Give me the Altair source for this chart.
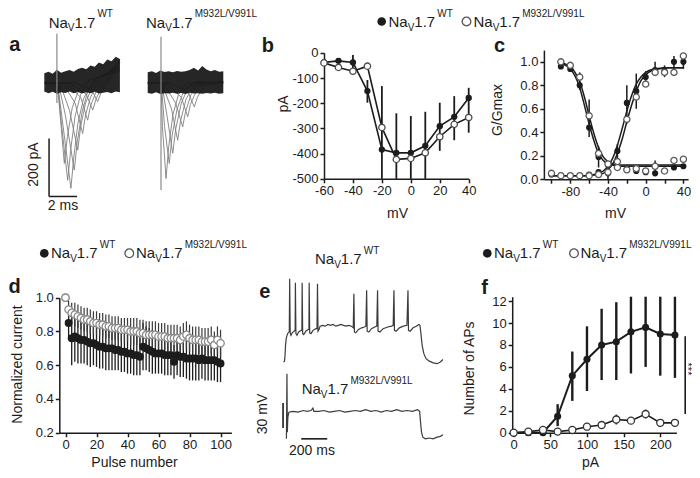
import altair as alt
import pandas as pd

FONT = "Liberation Sans"
INK = "#1c1c1c"
OPEN_EDGE = "#4a4a4a"
TRACE = "#808080"
W_CHART, H_CHART = 684, 462

# ===================== DATA =====================
# ---- a: sodium current traces (time ms, current pA)
a_wt_1 = [(0, 0), (0.9, 0), (1.05, -40), (1.5, -210), (1.9, -364), (2.1, -260), (2.4, -140), (2.8, -55), (3.3, -8), (4.0, 20), (5.4, 45)]
a_wt_2 = [(0, 0), (0.95, 0), (1.2, -130), (1.67, -336), (1.9, -225), (2.2, -115), (2.6, -40), (3.1, 0), (4.0, 25), (5.4, 50)]
a_wt_3 = [(0, 0), (0.95, -10), (1.2, -150), (1.43, -278), (1.65, -185), (2.0, -85), (2.5, -20), (3.2, 10), (5.4, 40)]
a_wt_4 = [(0, 0), (1.0, 0), (1.5, -110), (2.14, -301), (2.35, -205), (2.7, -100), (3.1, -30), (3.6, 10), (5.4, 55)]
a_wt_5 = [(0, 0), (1.1, 0), (1.8, -95), (2.39, -232), (2.6, -150), (2.95, -70), (3.4, -15), (4.0, 20), (5.4, 62)]
a_wt_6 = [(0, 0), (1.3, 0), (2.2, -70), (2.74, -175), (2.95, -110), (3.3, -50), (3.8, 0), (4.4, 30), (5.4, 70)]
a_wt_7 = [(0, 0), (1.5, 0), (2.6, -50), (3.1, -129), (3.3, -80), (3.7, -30), (4.2, 10), (5.4, 75)]
a_wt_8 = [(0, 0), (1.8, 0), (3.0, -40), (3.46, -94), (3.7, -55), (4.1, -15), (4.6, 20), (5.4, 80)]
a_wt_9 = [(0, 0), (2.2, 0), (3.4, -25), (3.81, -65), (4.05, -35), (4.5, 0), (5.4, 70)]
a_mut_1 = [(0, 0), (0.95, 0), (1.05, -150), (1.31, -330), (1.5, -220), (1.8, -110), (2.2, -40), (2.8, 0), (5.4, 0)]
a_mut_2 = [(0, 0), (0.97, 0), (1.2, -150), (1.54, -278), (1.75, -180), (2.1, -90), (2.6, -25), (3.2, 0), (5.4, 0)]
a_mut_3 = [(0, 0), (1.0, 0), (1.4, -120), (1.79, -243), (2.0, -160), (2.4, -70), (2.9, -15), (3.5, 5), (5.4, 0)]
a_mut_4 = [(0, 0), (1.0, 0), (1.7, -90), (2.14, -198), (2.35, -130), (2.75, -55), (3.3, -10), (5.4, 5)]
a_mut_5 = [(0, 0), (1.1, 0), (2.0, -70), (2.5, -152), (2.7, -100), (3.1, -40), (3.6, 0), (5.4, 0)]
a_mut_6 = [(0, 0), (1.3, 0), (2.4, -50), (2.86, -117), (3.05, -75), (3.5, -25), (4.0, 0), (5.4, 5)]
a_mut_7 = [(0, 0), (1.6, 0), (2.9, -35), (3.33, -83), (3.55, -50), (4.0, -10), (5.4, 0)]
a_band_t = [0, 0.3, 0.6, 0.9, 1.2, 1.5, 1.8, 2.1, 2.4, 2.7, 3.0, 3.3, 3.6, 3.9, 4.2, 4.5, 4.8, 5.1, 5.4]
a_wt_band_lo = [-30, -36, -31, -38, -33, -35, -30, -36, -32, -37, -33, -36, -31, -37, -34, -32, -36, -30, -33]
a_wt_band_hi = [33, 38, 31, 45, 35, 40, 44, 38, 48, 52, 47, 60, 55, 70, 64, 80, 74, 90, 82]
a_mut_band_lo = [-35, -38, -33, -39, -36, -37, -34, -38, -35, -39, -34, -37, -36, -38, -35, -37, -34, -38, -36]
a_mut_band_hi = [36, 40, 34, 42, 37, 40, 36, 41, 38, 40, 44, 52, 42, 58, 46, 40, 44, 38, 40]
a_wt_artifact = [(0.9, -70, 169)]
a_mut_artifact = [(0.95, -370, 159)]
a_bar_ms = 2
a_bar_pa = 200

# ---- b: current-voltage relation
b_mv = [-60, -50, -40, -30, -20, -10, 0, 10, 20, 30, 40]
b_wt_pa = [-38, -32, -38, -152, -384, -397, -397, -369, -291, -254, -179]
b_mut_pa = [-40, -58, -73, -53, -296, -423, -419, -397, -333, -284, -257]
b_err_mv = [-40, -30, -20, -10, 0, 10, 20, 30, 40]
b_err_top = [-9, -108, -132, -240, -251, -234, -198, -172, -139]
b_err_bottom = [-62, -198, -500, -500, -500, -500, -389, -347, -317]

# ---- c: activation / steady-state inactivation
c_inact_mv = [-90, -80, -70, -60, -50, -40, -30, -20, -10, 0, 10, 20, 30, 40]
c_inact_wt = [0.96, 0.94, 0.80, 0.44, 0.19, 0.12, 0.10, 0.09, 0.07, 0.06, 0.05, 0.07, 0.10, 0.11]
c_inact_mut = [1.00, 0.97, 0.87, 0.54, 0.22, 0.13, 0.10, 0.08, 0.09, 0.07, 0.11, 0.07, 0.16, 0.17]
c_act_mv = [-100, -90, -80, -70, -60, -50, -40, -30, -20, -10, 0, 10, 20, 30, 40]
c_act_wt = [0.04, 0.03, 0.03, 0.03, 0.04, 0.06, 0.05, 0.24, 0.65, 0.75, 0.87, 0.93, 0.92, 1.00, 1.00]
c_act_mut = [0.05, 0.03, 0.03, 0.03, 0.03, 0.04, 0.06, 0.15, 0.51, 0.70, 0.81, 0.91, 0.91, 0.91, 1.05]
c_err_mv = [-70, -60, -50, -40, -30, -20, -10, 0, 10, 20, 30, 40, 10]
c_err_low = [0.76, 0.36, 0.10, 0.00, 0.14, 0.47, 0.60, 0.80, 0.88, 0.87, 0.90, 0.94, 0.04]
c_err_high = [0.91, 0.68, 0.28, 0.12, 0.30, 0.80, 0.90, 0.92, 1.00, 0.97, 1.05, 1.06, 0.16]
c_fit_inact_mv = [-90, -85, -80, -75, -70, -65, -60, -55, -50, -45, -40, -35, -30, -25, -20, -15, -10, -5, 0, 5, 10, 15, 20, 25, 30, 35, 40]
c_fit_inact_wt = [0.99, 0.97, 0.94, 0.88, 0.78, 0.63, 0.47, 0.33, 0.22, 0.16, 0.13, 0.12, 0.11, 0.11, 0.11, 0.11, 0.11, 0.11, 0.11, 0.11, 0.11, 0.11, 0.11, 0.11, 0.11, 0.11, 0.11]
c_fit_inact_mut = [1.00, 0.98, 0.96, 0.91, 0.83, 0.70, 0.54, 0.39, 0.27, 0.19, 0.15, 0.13, 0.12, 0.12, 0.12, 0.12, 0.12, 0.12, 0.12, 0.12, 0.12, 0.12, 0.12, 0.12, 0.12, 0.12, 0.12]
c_fit_act_mv = [-100, -95, -90, -85, -80, -75, -70, -65, -60, -55, -50, -45, -40, -35, -30, -25, -20, -15, -10, -5, 0, 5, 10, 15, 20, 25, 30, 35, 40]
c_fit_act_wt = [0.03, 0.03, 0.03, 0.03, 0.03, 0.03, 0.03, 0.03, 0.035, 0.04, 0.05, 0.07, 0.11, 0.18, 0.29, 0.43, 0.58, 0.71, 0.81, 0.87, 0.91, 0.93, 0.94, 0.945, 0.95, 0.95, 0.95, 0.95, 0.95]
c_fit_act_mut = [0.03, 0.03, 0.03, 0.03, 0.03, 0.03, 0.03, 0.03, 0.03, 0.035, 0.04, 0.05, 0.08, 0.13, 0.22, 0.34, 0.49, 0.63, 0.75, 0.84, 0.89, 0.92, 0.935, 0.94, 0.945, 0.95, 0.95, 0.95, 0.95]

# ---- d: use-dependent current reduction
d_pulse = [0, 2, 4, 6, 8, 10, 12, 14, 16, 18, 20, 22, 24, 26, 28, 30, 32, 34, 36, 38, 40, 42, 44, 46, 48, 50,
           52, 54, 56, 58, 60, 62, 64, 66, 68, 70, 72, 74, 76, 78, 80, 82, 84, 86, 88, 90, 92, 94, 96, 98, 100]
d_wt = [1.00, 0.85, 0.76, 0.77, 0.76, 0.75, 0.75, 0.74, 0.73, 0.73, 0.72, 0.71, 0.71, 0.70, 0.70, 0.70, 0.69,
        0.69, 0.68, 0.68, 0.67, 0.67, 0.66, 0.66, 0.65, 0.71, 0.70, 0.69, 0.68, 0.67, 0.67, 0.67, 0.66, 0.66,
        0.66, 0.62, 0.66, 0.65, 0.65, 0.64, 0.64, 0.64, 0.64, 0.63, 0.64, 0.63, 0.63, 0.63, 0.63, 0.62, 0.61]
d_wt_err = [0.0, 0.10, 0.16, 0.15, 0.15, 0.14, 0.14, 0.14, 0.14, 0.13, 0.13, 0.13, 0.13, 0.13, 0.13, 0.13, 0.12,
            0.12, 0.12, 0.12, 0.12, 0.12, 0.12, 0.12, 0.11, 0.14, 0.13, 0.13, 0.13, 0.12, 0.12, 0.12, 0.12, 0.12,
            0.12, 0.10, 0.12, 0.12, 0.12, 0.12, 0.13, 0.13, 0.13, 0.12, 0.12, 0.12, 0.12, 0.12, 0.12, 0.12, 0.11]
d_mut = [1.00, 0.93, 0.91, 0.90, 0.89, 0.88, 0.87, 0.87, 0.86, 0.85, 0.85, 0.84, 0.84, 0.83, 0.83, 0.82, 0.82,
         0.82, 0.81, 0.81, 0.81, 0.80, 0.80, 0.80, 0.79, 0.79, 0.78, 0.78, 0.78, 0.78, 0.77, 0.77, 0.77, 0.76,
         0.76, 0.76, 0.76, 0.75, 0.77, 0.78, 0.76, 0.75, 0.75, 0.75, 0.74, 0.74, 0.74, 0.75, 0.72, 0.75, 0.73]
d_mut_err = [0.0, 0.05, 0.06, 0.07, 0.07, 0.07, 0.07, 0.07, 0.07, 0.07, 0.07, 0.07, 0.07, 0.07, 0.07, 0.07, 0.07,
             0.07, 0.07, 0.07, 0.07, 0.08, 0.08, 0.08, 0.08, 0.08, 0.08, 0.08, 0.08, 0.08, 0.08, 0.08, 0.08, 0.08,
             0.08, 0.08, 0.08, 0.08, 0.08, 0.08, 0.08, 0.08, 0.08, 0.08, 0.08, 0.08, 0.08, 0.08, 0.08, 0.08, 0.08]

# ---- e: voltage traces (time ms, membrane potential mV)
e_wt = [(-12, -65), (-4, -64), (0, -58), (4, -45), (10, -36), (20, -31), (30, -29), (33, -28), (36, 35), (40, -30),
        (46, -33), (55, -30), (70, -28), (78, -27), (80, 30), (84, -31), (92, -33), (105, -29), (125, -27),
        (130, -27), (132, 30), (136, -31), (144, -32), (160, -28), (178, -26), (184, -26), (186, 30), (190, -30),
        (200, -31), (215, -27), (238, -25), (246, -25), (250, 29), (254, -28), (262, -26), (270, -22), (290, -21),
        (310, -22), (330, -20), (350, -21), (370, -20), (390, -22), (410, -21), (430, -20), (450, -21), (470, -22),
        (490, -21), (510, -22), (525, -24), (530, 17), (534, -29), (545, -30), (565, -26), (590, -24), (610, -23),
        (622, -22), (628, 21), (632, -28), (645, -29), (665, -25), (690, -23), (706, -22), (712, 21), (716, -28),
        (730, -29), (755, -25), (790, -23), (820, -22), (832, -21), (838, 21), (842, -27), (855, -28), (880, -24),
        (910, -22), (938, -21), (946, 21), (950, -27), (963, -28), (985, -24), (1010, -22), (1030, -20),
        (1038, -21), (1045, -30), (1055, -45), (1068, -55), (1085, -61), (1110, -64), (1140, -66), (1170, -67),
        (1195, -65), (1215, -62)]
e_mut = [(11, -66), (15, 12), (18, -58), (22, -40), (30, -34), (60, -33), (100, -34), (140, -32), (170, -33),
         (200, -32), (215, -29), (222, -33), (260, -33), (300, -32), (340, -34), (380, -33), (420, -32), (460, -34),
         (500, -33), (540, -32), (580, -33), (620, -31), (660, -33), (700, -32), (740, -34), (780, -32), (820, -33),
         (860, -31), (900, -33), (940, -32), (980, -33), (1020, -31), (1036, -33), (1042, -45), (1050, -58),
         (1060, -64), (1080, -66), (1110, -65), (1140, -66), (1170, -64), (1195, -63), (1215, -61)]
e_bar_mv = 30
e_bar_ms = 200

# ---- f: number of action potentials vs injected current
f_pa = [0, 20, 40, 60, 80, 100, 120, 140, 160, 180, 200, 220]
f_wt = [0, 0, 0, 1.5, 5.2, 6.7, 8.0, 8.3, 9.2, 9.6, 9.0, 8.9]
f_wt_low = [0, 0, 0, 0.6, 2.9, 3.8, 4.8, 4.8, 5.4, 6.0, 5.2, 5.0]
f_wt_high = [0, 0, 0, 2.6, 7.4, 9.7, 11.3, 11.9, 12.4, 12.4, 12.4, 12.4]
f_mut = [0, 0.1, 0.25, 0.1, 0.25, 0.55, 0.7, 1.2, 1.1, 1.7, 0.9, 0.9]
f_mut_low = [0, 0.1, 0.25, 0.1, 0.25, 0.45, 0.4, 0.75, 1.0, 1.3, 0.85, 0.85]
f_mut_high = [0, 0.1, 0.25, 0.1, 0.25, 0.65, 1.0, 1.65, 1.2, 2.1, 0.95, 0.95]
f_sig_pa = 234
f_sig_span = (1.7, 8.8)

# ===================== LAYOUT HELPERS =====================
class Frame:
    def __init__(self, dx, dy):
        self.dx, self.dy = dx, dy

    def x(self, v):
        return v + self.dx

    def y(self, v):
        return v + self.dy


FA, FB, FC = Frame(-2, -4.5), Frame(-8, -4.5), Frame(-14, -4.5)
FD, FE, FF = Frame(-2, -7), Frame(-8, -7), Frame(-14, -7)
FLEG = Frame(-8, -1.5)

ARIAL_W = {'N': .722, 'a': .556, 'V': .667, '1': .556, '.': .278, '7': .556, 'W': .944, 'T': .611,
           'M': .833, '9': .556, '3': .556, '2': .556, 'L': .556, '/': .278}


def text_w(s, size):
    return sum(ARIAL_W.get(ch, .556) for ch in s) * size


def lin(domain, rng):
    return alt.Scale(domain=domain, range=rng, nice=False, zero=False)


def left_axis(ax_x, values, title, tx, ty, label_expr=None, fmt=None):
    kw = dict(orient='left', offset=-ax_x, values=values, title=title, titleX=tx - ax_x, titleY=ty,
              titleAngle=270, titleAlign='center', titleBaseline='middle')
    if label_expr:
        kw['labelExpr'] = label_expr
    if fmt:
        kw['format'] = fmt
    return alt.Axis(**kw)


def bottom_axis(ax_y, values, title, tx, ty, label_expr=None, fmt=None):
    kw = dict(orient='bottom', offset=ax_y - H_CHART, values=values, title=title, titleX=tx, titleY=ty - ax_y,
              titleAngle=0, titleAlign='center', titleBaseline='middle')
    if label_expr:
        kw['labelExpr'] = label_expr
    if fmt:
        kw['format'] = fmt
    return alt.Axis(**kw)


def pairs_df(pairs, name):
    return pd.DataFrame({'t': [p[0] for p in pairs], 'v': [p[1] for p in pairs], 'k': name,
                         'o': list(range(len(pairs)))})


def filled_pts(df, xf, yf, xs, ys, xa, ya, size):
    return alt.Chart(df).mark_point(shape='circle', filled=True, color=INK, opacity=1, size=size).encode(
        x=alt.X(xf, scale=xs, axis=xa), y=alt.Y(yf, scale=ys, axis=ya))


def open_pts(df, xf, yf, xs, ys, xa, ya, size, edge=OPEN_EDGE):
    return alt.Chart(df).mark_point(shape='circle', filled=True, fill='white', stroke=edge, strokeWidth=1.3,
                                    opacity=1, size=size).encode(
        x=alt.X(xf, scale=xs, axis=xa), y=alt.Y(yf, scale=ys, axis=ya))


# ===================== PANEL a =====================
a_ys = lin([-400, 200], [FA.y(195.3), FA.y(21.3)])


def trace_panel(traces, band_lo, band_hi, artifact, x_left, with_bar):
    xs = lin([0, 5.4], [FA.x(x_left), FA.x(x_left + 75.6)])
    X = lambda f: alt.X(f, scale=xs, axis=None)
    Y = lambda f: alt.Y(f, scale=a_ys, axis=None)
    df_tr = pd.concat([pairs_df(p, f"tr{i}") for i, p in enumerate(traces)])
    df_band = pd.DataFrame({'t': a_band_t, 'lo': band_lo, 'hi': band_hi})
    df_art = pd.DataFrame({'t': [r[0] for r in artifact], 'lo': [r[1] for r in artifact],
                           'hi': [r[2] for r in artifact]})
    layers = [
        alt.Chart(df_tr).mark_line(color=TRACE, strokeWidth=1.0, opacity=0.9).encode(
            x=X('t:Q'), y=Y('v:Q'), detail='k:N', order='o:Q'),
        alt.Chart(df_band).mark_area(color='#151515', opacity=0.93).encode(x=X('t:Q'), y=Y('lo:Q'), y2='hi:Q'),
        alt.Chart(df_art).mark_rule(color='#8a8a8a', strokeWidth=1.2).encode(x=X('t:Q'), y=Y('lo:Q'), y2='hi:Q'),
    ]
    if with_bar:
        t0, p0 = 0.34, -392
        df_v = pd.DataFrame({'t': [t0], 'lo': [p0], 'hi': [p0 + a_bar_pa]})
        df_h = pd.DataFrame({'t': [t0], 't2': [t0 + a_bar_ms], 'p': [p0]})
        layers.append(alt.Chart(df_v).mark_rule(color=INK, strokeWidth=1.5).encode(
            x=X('t:Q'), y=Y('lo:Q'), y2='hi:Q'))
        layers.append(alt.Chart(df_h).mark_rule(color=INK, strokeWidth=1.5).encode(
            x=X('t:Q'), x2='t2:Q', y=Y('p:Q')))
    return alt.layer(*layers)


panel_a_wt = trace_panel([a_wt_1, a_wt_2, a_wt_3, a_wt_4, a_wt_5, a_wt_6, a_wt_7, a_wt_8, a_wt_9],
                         a_wt_band_lo, a_wt_band_hi, a_wt_artifact, 38.3, True)
panel_a_mut = trace_panel([a_mut_1, a_mut_2, a_mut_3, a_mut_4, a_mut_5, a_mut_6, a_mut_7],
                          a_mut_band_lo, a_mut_band_hi, a_mut_artifact, 141.7, False)

# ===================== PANEL b =====================
bxs = lin([-60, 40], [FB.x(324), FB.x(468.7)])
bys = lin([-500, 0], [FB.y(175.3), FB.y(49.3)])
bxa = bottom_axis(FB.y(175.3), [-60, -40, -20, 0, 20, 40], 'mV', FB.x(397), FB.y(210),
                  label_expr="'' + datum.value")
bya = left_axis(FB.x(324), [-500, -400, -300, -200, -100, 0], 'pA', FB.x(283), FB.y(100),
                label_expr="'' + datum.value")
df_b_wt = pd.DataFrame({'v': b_mv, 'i': b_wt_pa})
df_b_mut = pd.DataFrame({'v': b_mv, 'i': b_mut_pa})
df_b_err = pd.DataFrame({'v': b_err_mv, 'lo': b_err_bottom, 'hi': b_err_top})
panel_b = alt.layer(
    alt.Chart(df_b_err).mark_rule(color=INK, strokeWidth=1.8).encode(
        x=alt.X('v:Q', scale=bxs, axis=bxa), y=alt.Y('lo:Q', scale=bys, axis=bya), y2='hi:Q'),
    alt.Chart(df_b_wt).mark_line(color=INK, strokeWidth=1.6).encode(
        x=alt.X('v:Q', scale=bxs, axis=bxa), y=alt.Y('i:Q', scale=bys, axis=bya)),
    alt.Chart(df_b_mut).mark_line(color=INK, strokeWidth=1.6).encode(
        x=alt.X('v:Q', scale=bxs, axis=bxa), y=alt.Y('i:Q', scale=bys, axis=bya)),
    filled_pts(df_b_wt, 'v:Q', 'i:Q', bxs, bys, bxa, bya, 40),
    open_pts(df_b_mut, 'v:Q', 'i:Q', bxs, bys, bxa, bya, 40),
)

# ===================== PANEL c =====================
cxs = lin([-108, 45], [FC.x(549.9), FC.x(694.1)])
cys = lin([0, 1.1], [FC.y(175.7), FC.y(46.6)])
cxa = bottom_axis(FC.y(175.7), [-100, -80, -60, -40, -20, 0, 20, 40], 'mV', FC.x(621), FC.y(210),
                  label_expr="datum.value % 40 == 0 ? '' + datum.value : ''")
cya = left_axis(FC.x(549.9), [0, 0.2, 0.4, 0.6, 0.8, 1.0], 'G/Gmax', FC.x(503), FC.y(106), fmt='.1f')
df_c_fit = pd.concat([
    pd.DataFrame({'v': c_fit_inact_mv, 'g': c_fit_inact_wt, 'k': 'iw'}),
    pd.DataFrame({'v': c_fit_inact_mv, 'g': c_fit_inact_mut, 'k': 'im'}),
    pd.DataFrame({'v': c_fit_act_mv, 'g': c_fit_act_wt, 'k': 'aw'}),
    pd.DataFrame({'v': c_fit_act_mv, 'g': c_fit_act_mut, 'k': 'am'}),
])
df_c_wt = pd.concat([pd.DataFrame({'v': c_inact_mv, 'g': c_inact_wt}),
                     pd.DataFrame({'v': c_act_mv, 'g': c_act_wt})])
df_c_mut = pd.concat([pd.DataFrame({'v': c_inact_mv, 'g': c_inact_mut}),
                      pd.DataFrame({'v': c_act_mv, 'g': c_act_mut})])
df_c_err = pd.DataFrame({'v': c_err_mv, 'lo': c_err_low, 'hi': c_err_high})
panel_c = alt.layer(
    alt.Chart(df_c_err).mark_rule(color=INK, strokeWidth=1.5).encode(
        x=alt.X('v:Q', scale=cxs, axis=cxa), y=alt.Y('lo:Q', scale=cys, axis=cya), y2='hi:Q'),
    alt.Chart(df_c_fit).mark_line(color=INK, strokeWidth=1.5, interpolate='monotone').encode(
        x=alt.X('v:Q', scale=cxs, axis=cxa), y=alt.Y('g:Q', scale=cys, axis=cya), detail='k:N'),
    filled_pts(df_c_wt, 'v:Q', 'g:Q', cxs, cys, cxa, cya, 38),
    open_pts(df_c_mut, 'v:Q', 'g:Q', cxs, cys, cxa, cya, 38, edge='#5a5a5a'),
)

# ===================== PANEL d =====================
dxs = lin([-4, 107], [FD.x(53.3), FD.x(225.4)])
dys = lin([0.2, 1.0], [FD.y(431.7), FD.y(296.7)])
dxa = bottom_axis(FD.y(431.7), [0, 20, 40, 60, 80, 100], 'Pulse number', FD.x(128), FD.y(461))
dya = left_axis(FD.x(53.3), [0.2, 0.4, 0.6, 0.8, 1.0], 'Normalized current', FD.x(11.5), FD.y(363), fmt='.1f')
df_d_wt = pd.DataFrame({'p': d_pulse, 'r': d_wt,
                        'lo': [a - b for a, b in zip(d_wt, d_wt_err)], 'hi': [a + b for a, b in zip(d_wt, d_wt_err)]})
df_d_mut = pd.DataFrame({'p': d_pulse, 'r': d_mut,
                         'lo': [a - b for a, b in zip(d_mut, d_mut_err)], 'hi': [a + b for a, b in zip(d_mut, d_mut_err)]})
panel_d = alt.layer(
    alt.Chart(df_d_wt).mark_rule(color=INK, strokeWidth=1.3).encode(
        x=alt.X('p:Q', scale=dxs, axis=dxa), y=alt.Y('lo:Q', scale=dys, axis=dya), y2='hi:Q'),
    alt.Chart(df_d_mut).mark_rule(color='#3a3a3a', strokeWidth=1.2).encode(
        x=alt.X('p:Q', scale=dxs, axis=dxa), y=alt.Y('lo:Q', scale=dys, axis=dya), y2='hi:Q'),
    filled_pts(df_d_wt, 'p:Q', 'r:Q', dxs, dys, dxa, dya, 62),
    open_pts(df_d_mut, 'p:Q', 'r:Q', dxs, dys, dxa, dya, 55, edge='#8a8a8a'),
)

# ===================== PANEL e =====================
exs = lin([0, 1200], [FE.x(285), FE.x(441)])
eys_wt = lin([-65, 40], [FE.y(361), FE.y(273.5)])
eys_mut = lin([-65, 40], [FE.y(437), FE.y(349.5)])
panel_e_wt = alt.Chart(pairs_df(e_wt, 'wt')).mark_line(color='#3c3c3c', strokeWidth=1.2).encode(
    x=alt.X('t:Q', scale=exs, axis=None), y=alt.Y('v:Q', scale=eys_wt, axis=None), order='o:Q')
e_bar_v = pd.DataFrame({'t': [-15], 'lo': [-53], 'hi': [-53 + e_bar_mv]})
e_bar_h = pd.DataFrame({'t': [125], 't2': [125 + e_bar_ms], 'v': [-66]})
panel_e_mut = alt.layer(
    alt.Chart(pairs_df(e_mut, 'mut')).mark_line(color='#3c3c3c', strokeWidth=1.2).encode(
        x=alt.X('t:Q', scale=exs, axis=None), y=alt.Y('v:Q', scale=eys_mut, axis=None), order='o:Q'),
    alt.Chart(e_bar_v).mark_rule(color=INK, strokeWidth=1.6).encode(
        x=alt.X('t:Q', scale=exs, axis=None), y=alt.Y('lo:Q', scale=eys_mut, axis=None), y2='hi:Q'),
    alt.Chart(e_bar_h).mark_rule(color=INK, strokeWidth=1.6).encode(
        x=alt.X('t:Q', scale=exs, axis=None), x2='t2:Q', y=alt.Y('v:Q', scale=eys_mut, axis=None)),
)

# ===================== PANEL f =====================
fxs = lin([-2, 222], [FF.x(518.2), FF.x(682.4)])
fys = lin([0, 12.4], [FF.y(431.7), FF.y(295.7)])
fxa = bottom_axis(FF.y(431.7), [0, 50, 100, 150, 200], 'pA', FF.x(596), FF.y(461))
fya = left_axis(FF.x(518.2), [0, 2, 4, 6, 8, 10, 12], 'Number of APs', FF.x(475), FF.y(367))
df_f_wt = pd.DataFrame({'c': f_pa, 'n': f_wt, 'lo': f_wt_low, 'hi': f_wt_high})
df_f_mut = pd.DataFrame({'c': f_pa, 'n': f_mut, 'lo': f_mut_low, 'hi': f_mut_high})
df_f_sig = pd.DataFrame({'c': [f_sig_pa], 'lo': [f_sig_span[0]], 'hi': [f_sig_span[1]]})
panel_f = alt.layer(
    alt.Chart(df_f_wt).mark_rule(color=INK, strokeWidth=2.4).encode(
        x=alt.X('c:Q', scale=fxs, axis=fxa), y=alt.Y('lo:Q', scale=fys, axis=fya), y2='hi:Q'),
    alt.Chart(df_f_mut).mark_rule(color=INK, strokeWidth=1.6).encode(
        x=alt.X('c:Q', scale=fxs, axis=fxa), y=alt.Y('lo:Q', scale=fys, axis=fya), y2='hi:Q'),
    alt.Chart(df_f_sig).mark_rule(color=INK, strokeWidth=1.6).encode(
        x=alt.X('c:Q', scale=fxs, axis=fxa), y=alt.Y('lo:Q', scale=fys, axis=fya), y2='hi:Q'),
    alt.Chart(df_f_wt).mark_line(color=INK, strokeWidth=2.0).encode(
        x=alt.X('c:Q', scale=fxs, axis=fxa), y=alt.Y('n:Q', scale=fys, axis=fya)),
    alt.Chart(df_f_mut).mark_line(color=INK, strokeWidth=1.6).encode(
        x=alt.X('c:Q', scale=fxs, axis=fxa), y=alt.Y('n:Q', scale=fys, axis=fya)),
    filled_pts(df_f_wt, 'c:Q', 'n:Q', fxs, fys, fxa, fya, 50),
    open_pts(df_f_mut, 'c:Q', 'n:Q', fxs, fys, fxa, fya, 50, edge='#333333'),
)

# ===================== TEXT / ANNOTATIONS =====================
def nav_pieces(fr, x, base, sup, main=15, small=10):
    out, cx = [], x
    out.append((cx, base, 'Na', main)); cx += text_w('Na', main)
    out.append((cx, base + 3.5, 'V', small)); cx += text_w('V', small)
    out.append((cx, base, '1.7', main)); cx += text_w('1.7', main) + 2
    out.append((cx, base - 10.5, sup, small))
    return [dict(x=fr.x(a), y=fr.y(b), text=t, size=s) for a, b, t, s in out]


MUT = 'M932L/V991L'
rows = []
rows += nav_pieces(FA, 42.7, 24, 'WT') + nav_pieces(FA, 140, 24, MUT)
rows += nav_pieces(FLEG, 388.5, 20.7, 'WT') + nav_pieces(FLEG, 473.5, 20.7, MUT)
rows += nav_pieces(FD, 45, 257.3, 'WT') + nav_pieces(FD, 130, 257.3, MUT)
rows += nav_pieces(FF, 500, 257.3, 'WT') + nav_pieces(FF, 586.5, 257.3, MUT)
rows += nav_pieces(FE, 315, 263.3, 'WT') + nav_pieces(FE, 301.7, 393.3, MUT)


def txt_layer(df, **mk):
    return alt.Chart(df).mark_text(font=FONT, color=INK, **mk).encode(
        x=alt.X('x:Q', scale=None, axis=None), y=alt.Y('y:Q', scale=None, axis=None),
        text='text:N', size=alt.Size('size:Q', scale=None, legend=None))


t_pieces = txt_layer(pd.DataFrame(rows), align='left', baseline='alphabetic')
letters = pd.DataFrame([
    dict(x=FA.x(3.3), y=FA.y(47.3), text='a', size=20), dict(x=FB.x(261.7), y=FB.y(48.3), text='b', size=20),
    dict(x=FC.x(500), y=FC.y(48.3), text='c', size=20), dict(x=FD.x(2.5), y=FD.y(291.7), text='d', size=20),
    dict(x=FE.x(259.3), y=FE.y(296.7), text='e', size=20), dict(x=FF.x(487.3), y=FF.y(293.3), text='f', size=20),
])
t_letters = txt_layer(letters, align='left', baseline='alphabetic', fontWeight='bold')
t_center = txt_layer(pd.DataFrame([
    dict(x=FA.x(57), y=FA.y(202), text=f'{a_bar_ms} ms', size=14),
    dict(x=FE.x(312), y=FE.y(450), text=f'{e_bar_ms} ms', size=14),
]), align='center', baseline='middle')
t_rot = txt_layer(pd.DataFrame([
    dict(x=FA.x(28), y=FA.y(161), text=f'{a_bar_pa} pA', size=14),
    dict(x=FE.x(263), y=FE.y(413), text=f'{e_bar_mv} mV', size=14),
]), align='center', baseline='middle', angle=270)
t_stars = txt_layer(pd.DataFrame([dict(x=FF.x(692.5), y=FF.y(368), text='***', size=11)]),
                    align='center', baseline='middle', angle=90)

sym_filled = pd.DataFrame({'x': [FLEG.x(381.7), FD.x(38.3), FF.x(493.3)],
                           'y': [FLEG.y(15), FD.y(252.3), FF.y(252.3)]})
sym_open = pd.DataFrame({'x': [FLEG.x(466.5), FD.x(123.3), FF.x(580)],
                         'y': [FLEG.y(15), FD.y(252.3), FF.y(252.3)]})
leg_f = alt.Chart(sym_filled).mark_point(shape='circle', filled=True, color=INK, opacity=1, size=75).encode(
    x=alt.X('x:Q', scale=None, axis=None), y=alt.Y('y:Q', scale=None, axis=None))
leg_o = alt.Chart(sym_open).mark_point(shape='circle', filled=True, fill='white', stroke='#555555',
                                       strokeWidth=1.3, opacity=1, size=75).encode(
    x=alt.X('x:Q', scale=None, axis=None), y=alt.Y('y:Q', scale=None, axis=None))

chart = alt.layer(
    panel_a_wt, panel_a_mut, panel_b, panel_c, panel_d, panel_e_wt, panel_e_mut, panel_f,
    leg_f, leg_o, t_pieces, t_letters, t_center, t_rot, t_stars,
).resolve_scale(x='independent', y='independent').resolve_axis(x='independent', y='independent').properties(
    width=W_CHART, height=H_CHART, padding=0, autosize=alt.AutoSizeParams(type='none'), background='white'
).configure_view(stroke=None).configure_axis(
    grid=False, labelFont=FONT, titleFont=FONT, labelFontSize=13, titleFontSize=14, titleFontWeight='normal',
    labelColor=INK, titleColor=INK, domainColor=INK, tickColor=INK, domainWidth=1.5, tickWidth=1.5,
    tickSize=4, labelPadding=2, labelFlush=False, labelOverlap=False
)

chart.save("out.html", embed_options={"renderer": "svg", "actions": False})
